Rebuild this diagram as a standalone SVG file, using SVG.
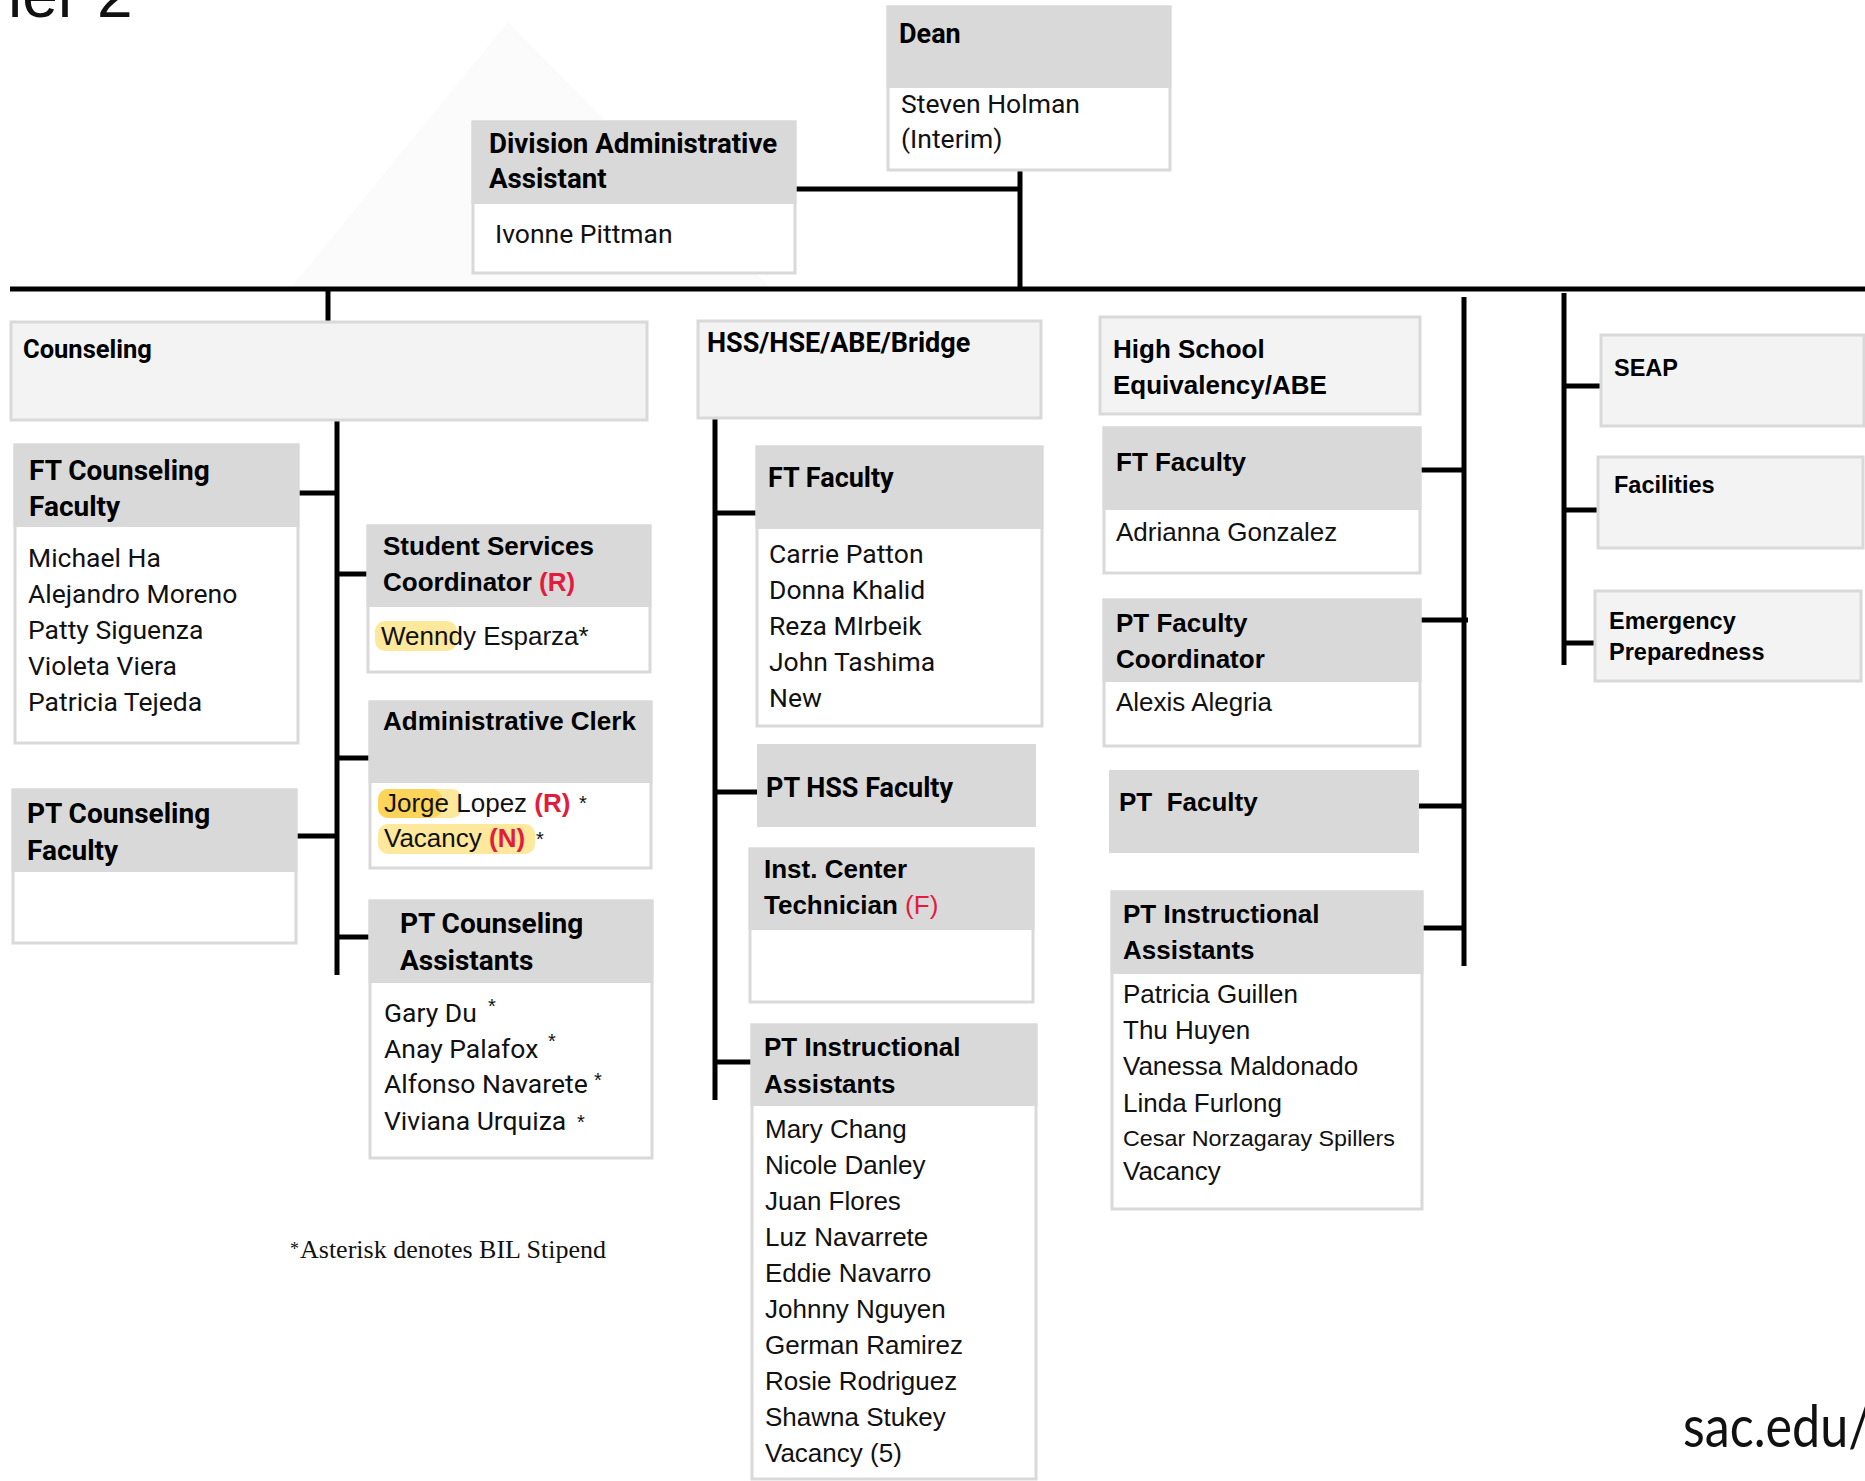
<svg xmlns="http://www.w3.org/2000/svg" width="1865" height="1481" viewBox="0 0 1865 1481">
<style>
.box{fill:#fff;stroke:#d9d9d9;stroke-width:3}
.dept{fill:#f4f3f4;stroke:#d9d9d9;stroke-width:3}
.hdr{fill:#d9d9d9}
.ln{stroke:#000;stroke-width:5;fill:none}
.rb{font-family:Roboto,"Liberation Sans",sans-serif;font-weight:700;font-size:27px;fill:#000}
.rb28{font-size:28px}
.rr{font-family:Roboto,"Liberation Sans",sans-serif;font-weight:400;font-size:26.5px;fill:#111}
.ab{font-family:"Liberation Sans",Arial,sans-serif;font-weight:700;font-size:26px;fill:#000}
.ar{font-family:"Liberation Sans",Arial,sans-serif;font-weight:400;font-size:26px;fill:#111}
.sb{font-family:"Liberation Sans",Arial,sans-serif;font-weight:700;font-size:23.5px;fill:#000}
.red{fill:#e31c3d}
.ast{font-family:"Liberation Sans",Arial,sans-serif;font-size:20px;fill:#111}
.hl{fill:#fde89b}
.hl2{fill:#fcd45a}
</style>
<rect width="1865" height="1481" fill="#fff"/>
<polygon points="508,22 290,289 772,289" fill="#fbfbfb"/>
<text x="8" y="17" font-family="'Liberation Sans',Arial,sans-serif" font-size="64" fill="#111">ier 2</text>

<g id="connectors">
<line class="ln" x1="10" y1="289" x2="1865" y2="289"/>
<line class="ln" x1="1020" y1="169" x2="1020" y2="289"/>
<line class="ln" x1="795" y1="189" x2="1020" y2="189"/>
<line class="ln" x1="328" y1="289" x2="328" y2="321"/>
<line class="ln" x1="337" y1="420" x2="337" y2="975"/>
<line class="ln" x1="298" y1="493" x2="337" y2="493"/>
<line class="ln" x1="337" y1="574" x2="368" y2="574"/>
<line class="ln" x1="337" y1="758" x2="370" y2="758"/>
<line class="ln" x1="296" y1="836" x2="337" y2="836"/>
<line class="ln" x1="337" y1="937" x2="370" y2="937"/>
<line class="ln" x1="715" y1="418" x2="715" y2="1100"/>
<line class="ln" x1="715" y1="513" x2="757" y2="513"/>
<line class="ln" x1="715" y1="792" x2="757" y2="792"/>
<line class="ln" x1="715" y1="1062" x2="752" y2="1062"/>
<line class="ln" x1="1464" y1="297" x2="1464" y2="966"/>
<line class="ln" x1="1420" y1="470" x2="1464" y2="470"/>
<line class="ln" x1="1420" y1="620" x2="1468" y2="620"/>
<line class="ln" x1="1419" y1="806" x2="1464" y2="806"/>
<line class="ln" x1="1422" y1="928" x2="1464" y2="928"/>
<line class="ln" x1="1564" y1="293" x2="1564" y2="665"/>
<line class="ln" x1="1564" y1="386" x2="1601" y2="386"/>
<line class="ln" x1="1564" y1="510" x2="1598" y2="510"/>
<line class="ln" x1="1564" y1="643" x2="1595" y2="643"/>
</g>

<g id="dean">
<rect class="box" x="888" y="7" width="282" height="163"/>
<rect class="hdr" x="886.5" y="5.5" width="285" height="82.5"/>
<text class="rb" x="899" y="43">Dean</text>
<text class="rr" x="901" y="113">Steven Holman</text>
<text class="rr" x="901" y="148">(Interim)</text>
</g>

<g id="div-admin">
<rect class="box" x="473" y="122" width="322" height="151"/>
<rect class="hdr" x="471.5" y="120.5" width="325" height="83.5"/>
<text class="rb" x="489" y="153" style="font-size:27.7px">Division Administrative</text>
<text class="rb" x="489" y="188" style="font-size:27.7px">Assistant</text>
<text class="rr" x="495" y="243">Ivonne Pittman</text>
</g>

<g id="counseling">
<rect class="dept" x="11" y="322" width="636" height="98"/>
<text class="rb" x="23" y="358" style="font-size:25.5px">Counseling</text>
</g>

<g id="ft-counseling">
<rect class="box" x="15" y="445" width="283" height="298"/>
<rect class="hdr" x="13.5" y="443.5" width="286" height="83.5"/>
<text class="rb rb28" x="29" y="480">FT Counseling</text>
<text class="rb rb28" x="29" y="516">Faculty</text>
<text class="rr" x="28" y="567">Michael Ha</text>
<text class="rr" x="28" y="603">Alejandro Moreno</text>
<text class="rr" x="28" y="639">Patty Siguenza</text>
<text class="rr" x="28" y="675">Violeta Viera</text>
<text class="rr" x="28" y="711">Patricia Tejeda</text>
</g>

<g id="pt-counseling-faculty">
<rect class="box" x="13" y="790" width="283" height="153"/>
<rect class="hdr" x="11.5" y="788.5" width="286" height="83.5"/>
<text class="rb rb28" x="27" y="823">PT Counseling</text>
<text class="rb rb28" x="27" y="860">Faculty</text>
</g>

<g id="student-services">
<rect class="box" x="368" y="526" width="282" height="146"/>
<rect class="hdr" x="366.5" y="524.5" width="285" height="82.5"/>
<text class="ab" x="383" y="555">Student Services</text>
<text class="ab" x="383" y="591">Coordinator <tspan class="red">(R)</tspan></text>
<rect class="hl" x="375" y="621" width="82" height="30" rx="10"/>
<text class="ar" x="381" y="645">Wenndy Esparza*</text>
</g>

<g id="admin-clerk">
<rect class="box" x="370" y="702" width="281" height="166"/>
<rect class="hdr" x="368.5" y="700.5" width="284" height="82.5"/>
<text class="ab" x="383" y="730">Administrative Clerk</text>
<rect class="hl" x="378" y="789" width="84" height="29" rx="10"/>
<rect class="hl2" x="378" y="789" width="64" height="29" rx="10"/>
<rect class="hl" x="378" y="824" width="157" height="30" rx="10"/>
<text class="ar" x="384" y="812">Jorge Lopez <tspan class="red" font-weight="700">(R)</tspan></text>
<text class="ast" x="579" y="810">*</text>
<text class="ar" x="384" y="847">Vacancy <tspan class="red" font-weight="700">(N)</tspan></text>
<text class="ast" x="536" y="846">*</text>
</g>

<g id="pt-counseling-assistants">
<rect class="box" x="370" y="901" width="282" height="257"/>
<rect class="hdr" x="368.5" y="899.5" width="285" height="83.5"/>
<text class="rb rb28" x="400" y="933">PT Counseling</text>
<text class="rb rb28" x="400" y="970">Assistants</text>
<text class="rr" x="384" y="1022">Gary Du</text>
<text class="ast" x="488" y="1013">*</text>
<text class="rr" x="384" y="1058">Anay Palafox</text>
<text class="ast" x="548" y="1048">*</text>
<text class="rr" x="384" y="1093">Alfonso Navarete</text>
<text class="ast" x="594" y="1087">*</text>
<text class="rr" x="384" y="1130">Viviana Urquiza</text>
<text class="ast" x="577" y="1129">*</text>
</g>

<g id="footnote">
<text font-family="'Liberation Serif','Times New Roman',serif" font-size="26" fill="#111" x="300" y="1258"><tspan x="290" font-size="18" dy="-3">*</tspan><tspan x="300" dy="3">Asterisk denotes BIL Stipend</tspan></text>
</g>

<g id="hss">
<rect class="dept" x="698" y="321" width="343" height="97"/>
<text class="rb" x="707" y="352">HSS/HSE/ABE/Bridge</text>
</g>

<g id="ft-faculty-hss">
<rect class="box" x="757" y="447" width="285" height="279"/>
<rect class="hdr" x="755.5" y="445.5" width="288" height="83.5"/>
<text class="rb" x="768" y="487">FT Faculty</text>
<text class="rr" x="769" y="563">Carrie Patton</text>
<text class="rr" x="769" y="599">Donna Khalid</text>
<text class="rr" x="769" y="635">Reza MIrbeik</text>
<text class="rr" x="769" y="671">John Tashima</text>
<text class="rr" x="769" y="707">New</text>
</g>

<g id="pt-hss-faculty">
<rect class="hdr" x="757" y="744" width="279" height="83"/>
<text class="rb" x="766" y="797">PT HSS Faculty</text>
</g>

<g id="inst-center">
<rect class="box" x="750" y="849" width="283" height="153"/>
<rect class="hdr" x="748.5" y="847.5" width="286" height="82.5"/>
<text class="ab" x="764" y="878">Inst. Center</text>
<text class="ab" x="764" y="914">Technician <tspan class="red" font-weight="400">(F)</tspan></text>
</g>

<g id="pt-instr-hss">
<rect class="box" x="752" y="1025" width="284" height="454"/>
<rect class="hdr" x="750.5" y="1023.5" width="287" height="82.5"/>
<text class="ab" x="764" y="1056">PT Instructional</text>
<text class="ab" x="764" y="1093">Assistants</text>
<text class="ar" x="765" y="1138">Mary Chang</text>
<text class="ar" x="765" y="1174">Nicole Danley</text>
<text class="ar" x="765" y="1210">Juan Flores</text>
<text class="ar" x="765" y="1246">Luz Navarrete</text>
<text class="ar" x="765" y="1282">Eddie Navarro</text>
<text class="ar" x="765" y="1318">Johnny Nguyen</text>
<text class="ar" x="765" y="1354">German Ramirez</text>
<text class="ar" x="765" y="1390">Rosie Rodriguez</text>
<text class="ar" x="765" y="1426">Shawna Stukey</text>
<text class="ar" x="765" y="1462">Vacancy (5)</text>
</g>

<g id="hse">
<rect class="dept" x="1100" y="317" width="320" height="97"/>
<text class="ab" x="1113" y="358">High School</text>
<text class="ab" x="1113" y="394">Equivalency/ABE</text>
</g>

<g id="ft-faculty-hse">
<rect class="box" x="1104" y="428" width="316" height="145"/>
<rect class="hdr" x="1102.5" y="426.5" width="319" height="83.5"/>
<text class="ab" x="1116" y="471">FT Faculty</text>
<text class="ar" x="1116" y="541">Adrianna Gonzalez</text>
</g>

<g id="pt-faculty-coordinator">
<rect class="box" x="1104" y="600" width="316" height="146"/>
<rect class="hdr" x="1102.5" y="598.5" width="319" height="83.5"/>
<text class="ab" x="1116" y="632">PT Faculty</text>
<text class="ab" x="1116" y="668">Coordinator</text>
<text class="ar" x="1116" y="711">Alexis Alegria</text>
</g>

<g id="pt-faculty-hse">
<rect class="hdr" x="1109" y="770" width="310" height="83"/>
<text class="ab" x="1119" y="811" xml:space="preserve">PT  Faculty</text>
</g>

<g id="pt-instr-hse">
<rect class="box" x="1112" y="892" width="310" height="317"/>
<rect class="hdr" x="1110.5" y="890.5" width="313" height="83.5"/>
<text class="ab" x="1123" y="923">PT Instructional</text>
<text class="ab" x="1123" y="959">Assistants</text>
<text class="ar" x="1123" y="1003">Patricia Guillen</text>
<text class="ar" x="1123" y="1039">Thu Huyen</text>
<text class="ar" x="1123" y="1075">Vanessa Maldonado</text>
<text class="ar" x="1123" y="1112">Linda Furlong</text>
<text class="ar" x="1123" y="1146" style="font-size:22.5px" textLength="272" lengthAdjust="spacingAndGlyphs">Cesar Norzagaray Spillers</text>
<text class="ar" x="1123" y="1180">Vacancy</text>
</g>

<g id="seap">
<rect class="dept" x="1601" y="335" width="263" height="91"/>
<text class="sb" x="1614" y="376">SEAP</text>
</g>

<g id="facilities">
<rect class="dept" x="1598" y="457" width="265" height="91"/>
<text class="sb" x="1614" y="493">Facilities</text>
</g>

<g id="emergency">
<rect class="dept" x="1595" y="591" width="266" height="90"/>
<text class="sb" x="1609" y="629">Emergency</text>
<text class="sb" x="1609" y="660">Preparedness</text>
</g>

<text x="1683" y="1447" font-family="Lato,'Noto Sans',sans-serif" font-size="58" fill="#111" textLength="188" lengthAdjust="spacingAndGlyphs">sac.edu/</text>
</svg>
